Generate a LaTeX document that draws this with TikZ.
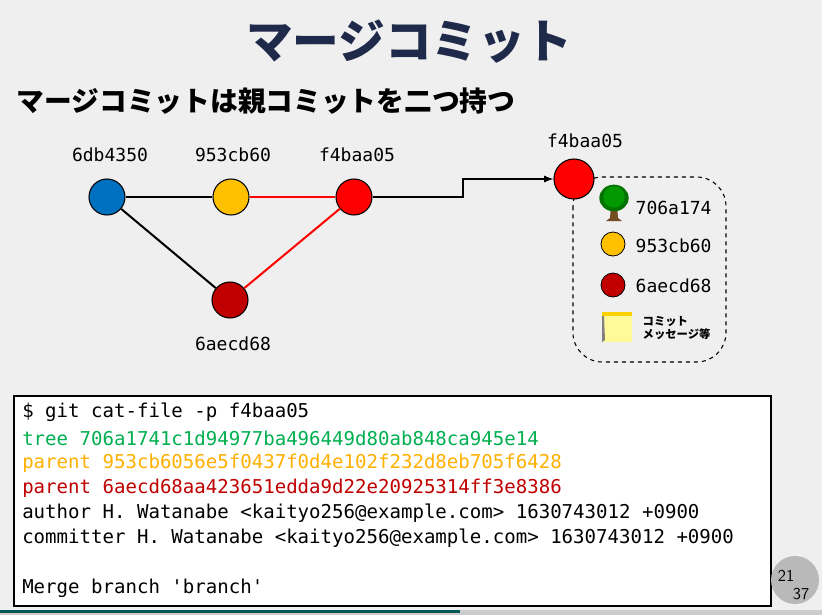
\documentclass[tikz,border=0pt]{standalone}
\usepackage{fontspec}
\setmonofont{DejaVu Sans Mono}
\newfontfamily\jp{Noto Sans CJK JP}
\usetikzlibrary{arrows.meta}
\definecolor{bg}{HTML}{EFEFEF}
\definecolor{cblue}{HTML}{0070C0}
\definecolor{corange}{HTML}{FFC000}
\definecolor{cred}{HTML}{FF0000}
\definecolor{cdred}{HTML}{C00000}
\definecolor{tgreen}{HTML}{00B050}
\definecolor{torange}{HTML}{FFB000}
\definecolor{tred}{HTML}{C00000}
\definecolor{navy}{HTML}{1F2A4A}
\begin{document}
\begin{tikzpicture}[x=0.75pt,y=-0.75pt,
  commit/.style={circle,draw=black,line width=0.8pt,minimum size=27pt,inner sep=0},
  small/.style={circle,draw=black,line width=0.6pt,minimum size=18pt,inner sep=0},
  hash/.style={font=\ttfamily\fontsize{13.5}{15}\selectfont},
  term/.style={anchor=west,font=\ttfamily\fontsize{14.3}{16}\selectfont,inner sep=0}]
\fill[bg] (0,0) rectangle (822,615);
\fill[gray!40] (0,610) rectangle (822,615);
\fill[teal!70!black] (0,610) rectangle (460,613);
\node (title) at (409,42) {\jp\bfseries\fontsize{35}{40}\selectfont\color{navy}マージコミット};
\node[anchor=west] (sub) at (12,101) {\jp\bfseries\fontsize{20.8}{24}\selectfont マージコミットは親コミットを二つ持つ};
% graph
\node[commit,fill=cblue] (a) at (107,197) {};
\node[commit,fill=corange] (b) at (231,197) {};
\node[commit,fill=cred] (c) at (354,197) {};
\node[commit,fill=cdred] (d) at (230,300) {};
\node[hash] (la) at (110,155) {6db4350};
\node[hash] (lb) at (233,155) {953cb60};
\node[hash] (lc) at (357,155) {f4baa05};
\node[hash] (ld) at (233,344) {6aecd68};
\draw[line width=1.5pt] (a) -- (b);
\draw[line width=1.5pt] (a) -- (d);
\draw[line width=1.5pt,cred] (b) -- (c);
\draw[line width=1.5pt,cred] (d) -- (c);
\draw[dashed,line width=0.8pt,rounded corners=22pt] (573,177) rectangle (726,362);
\node[commit,fill=cred,minimum size=30pt] (e) at (574,179) {};
\node[hash] (le) at (585,141) {f4baa05};
\coordinate (k) at (463,197);
\draw[line width=0.8pt,-{Latex[length=7pt]}] (c) -- (k) |- (e);
% tree icon
\fill[brown!60!black] (611,205) -- (617,205) -- (618,218) -- (622,221) -- (606,221) -- (610,218) -- cycle;
\fill[green!45!black] (614,198) ellipse (11pt and 10pt);
\fill[green!60!black] (614,197) ellipse (8pt and 8pt);
\node[hash,anchor=west] (t1) at (631,208) {706a174};
\node[small,fill=corange] (s2) at (613,244) {};
\node[hash,anchor=west] (t2) at (631,246) {953cb60};
\node[small,fill=cdred] (s3) at (613,285) {};
\node[hash,anchor=west] (t3) at (631,286) {6aecd68};
\fill[yellow!40] (602,314) rectangle (632,342);
\fill[yellow!70!orange] (602,312) rectangle (632,316);
\fill[gray] (602,316) -- (604,316) -- (605,340) -- (602,342) -- cycle;
\node[anchor=west,align=left,font=\jp\bfseries\fontsize{8.5}{10}\selectfont] (t4) at (638,328) {コミット\\メッセージ等};
% terminal
\draw[fill=white,line width=0.8pt] (14,396) rectangle (771,606);
\node[term] (l1) at (22,412) {\$ git cat-file -p f4baa05};
\node[term,tgreen] (l2) at (22,438) {tree 706a1741c1d94977ba496449d80ab848ca945e14};
\node[term,torange] (l3) at (22,463) {parent 953cb6056e5f0437f0d4e102f232d8eb705f6428};
\node[term,tred] (l4) at (22,488) {parent 6aecd68aa423651edda9d22e20925314ff3e8386};
\node[term] (l5) at (22,513) {author H. Watanabe <kaityo256@example.com> 1630743012 +0900};
\node[term] (l6) at (22,538) {committer H. Watanabe <kaityo256@example.com> 1630743012 +0900};
\node[term] (l7) at (22,588) {Merge branch 'branch'};
% page
\fill[gray!55] (795,580) circle (18pt);
\node[font=\sffamily\fontsize{12.5}{13}\selectfont] (p1) at (786,576) {21};
\node[font=\sffamily\fontsize{12.5}{13}\selectfont] (p2) at (801,594) {37};
\end{tikzpicture}
\end{document}
